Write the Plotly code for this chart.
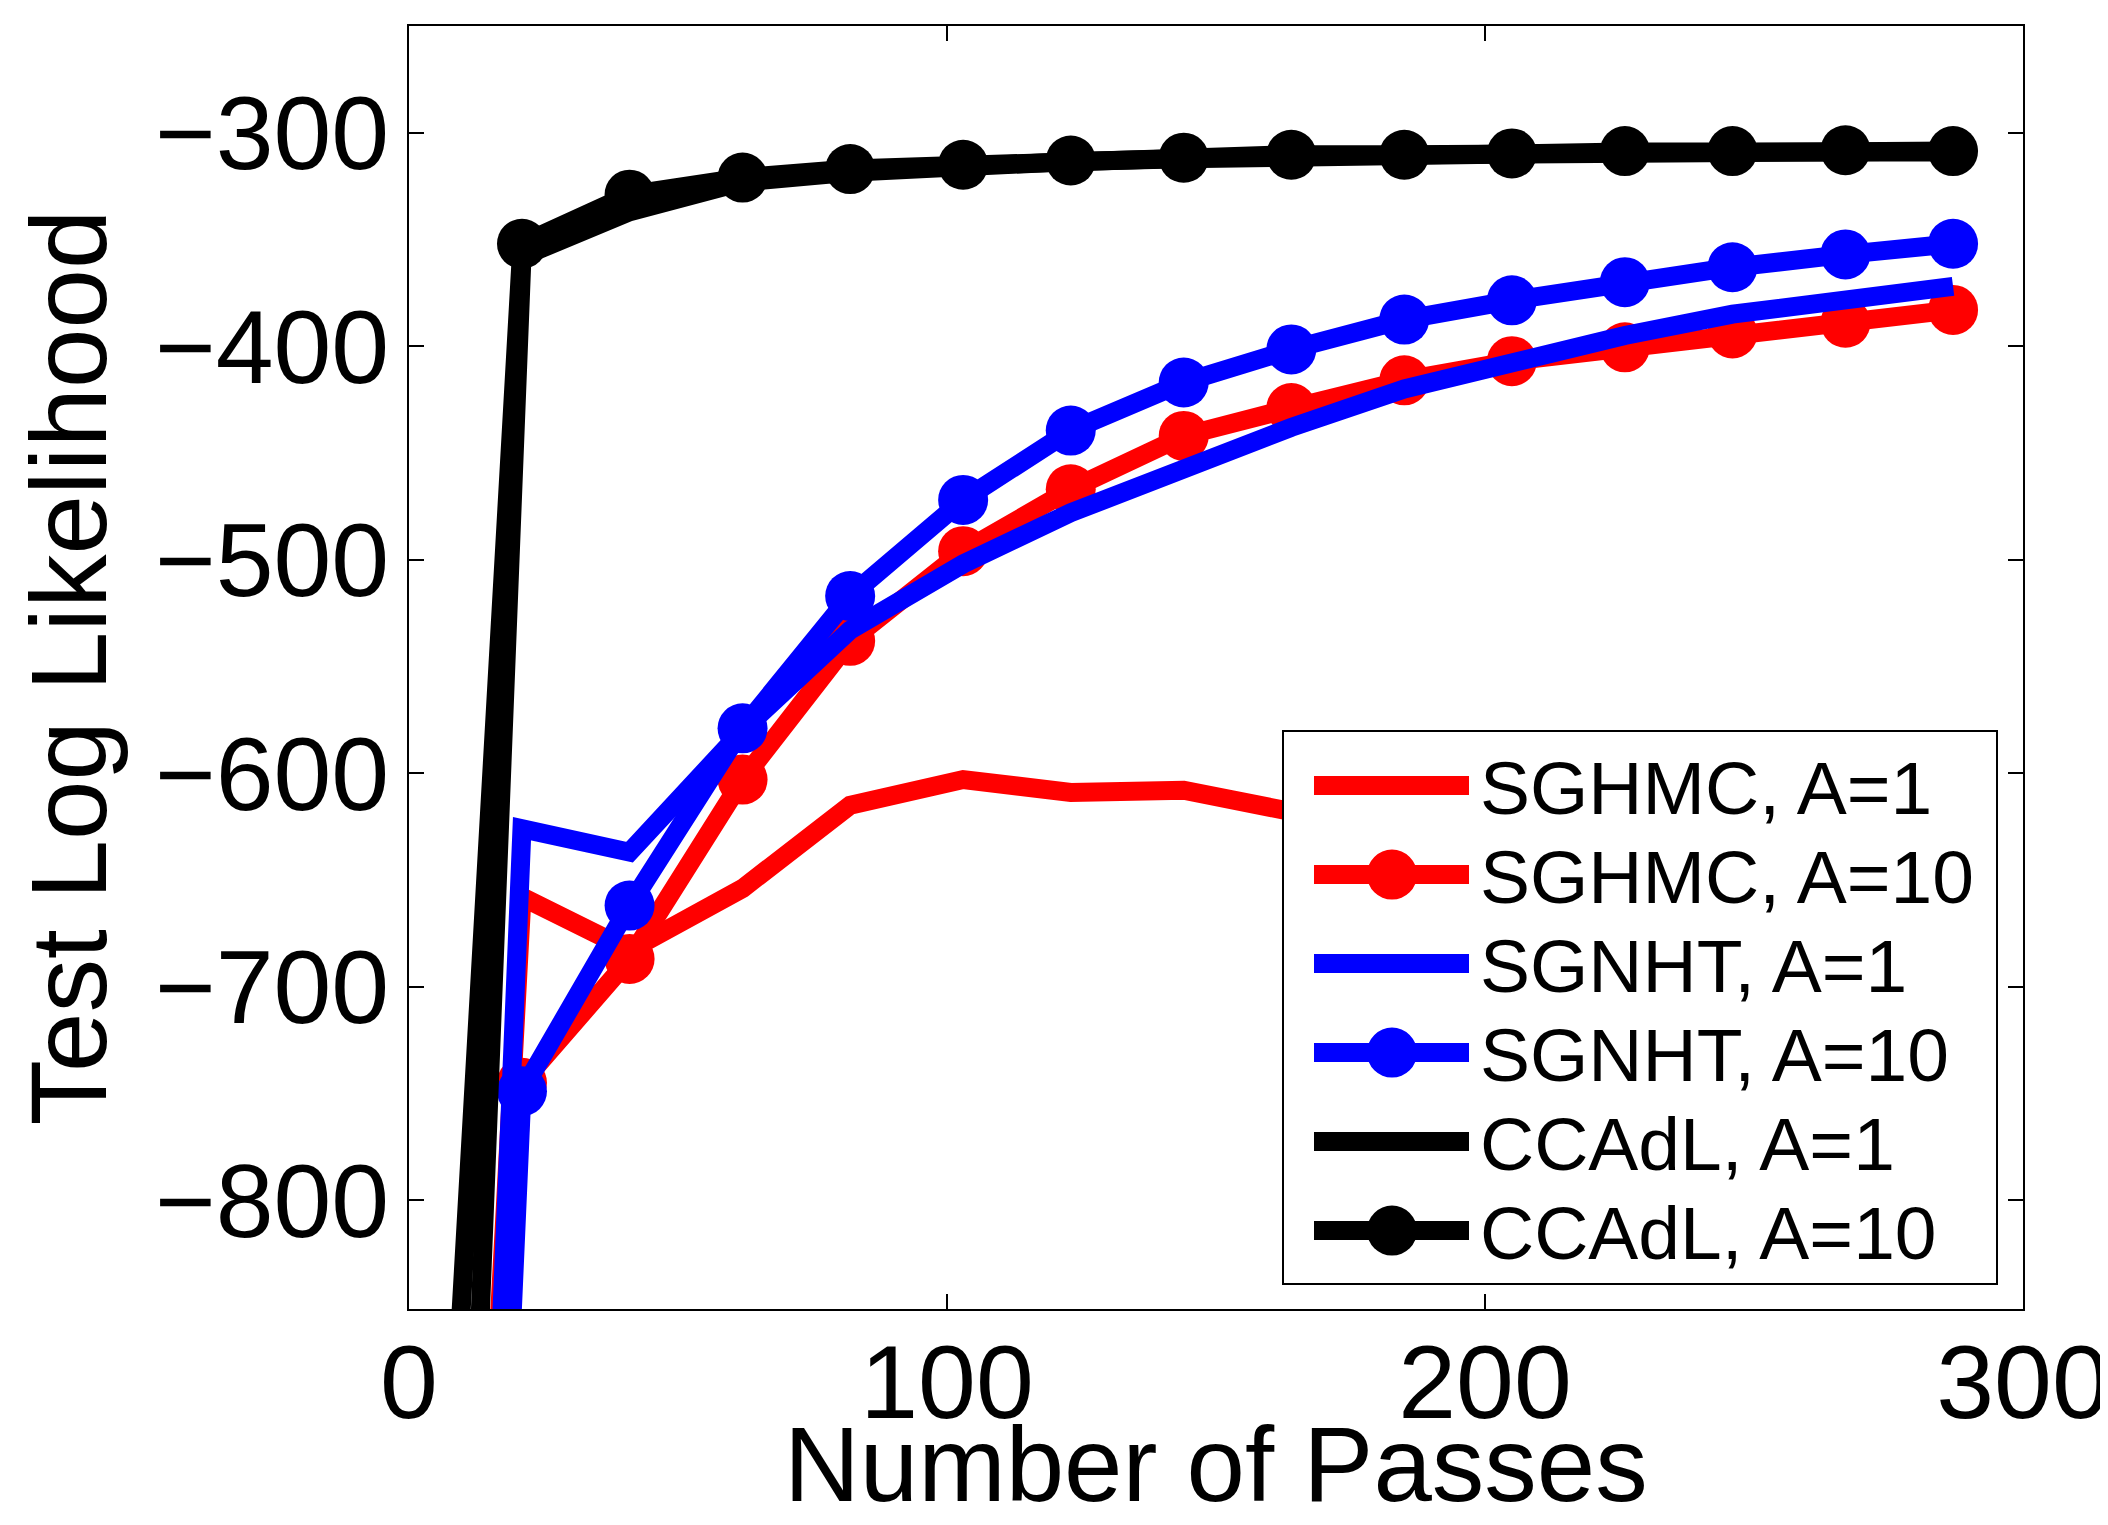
import plotly.graph_objects as go

# ---------------- data ----------------
passes = [0, 21, 41, 62, 82, 103, 123, 144, 164, 185, 205, 226, 246, 267, 287]

sghmc_a1 = [-1645, -658, -683, -654, -615, -603, -609, -608, -618, -622, -625, -628, -630, -632, -634]
sghmc_a10 = [-1800, -745, -687, -603, -538, -496, -467, -442, -429, -416, -407, -400.5, -394, -389, -383]
sgnht_a1 = [-1900, -626, -637, -580, -533, -502, -478, -457, -438, -420, -407, -395, -385, -378, -372]
sgnht_a10 = [-1950, -749, -662, -579, -517, -472, -439.5, -417, -401.5, -387.5, -378.5, -370, -363, -357, -352]
ccadl_a1 = [-1700, -358, -337, -323, -318.5, -315.5, -313.5, -312.2, -310.8, -310.5, -310, -309, -309, -308.5, -309]
ccadl_a10 = [-1280, -352, -329, -321, -317, -315, -313, -311.7, -310.3, -310.3, -309.7, -308.6, -308.6, -308.2, -308.6]

series_names = ["SGHMC, A=1", "SGHMC, A=10", "SGNHT, A=1", "SGNHT, A=10", "CCAdL, A=1", "CCAdL, A=10"]
series_values = [sghmc_a1, sghmc_a10, sgnht_a1, sgnht_a10, ccadl_a1, ccadl_a10]
series_colors = ["#ff0000", "#ff0000", "#0000ff", "#0000ff", "#000000", "#000000"]
series_markers = [False, True, False, True, False, True]

x_ticks = [0, 100, 200, 300]
y_ticks = [-800, -700, -600, -500, -400, -300]

x_title = "Number of Passes"
y_title = "Test Log Likelihood"

# ---------------- layout constants ----------------
W, H = 2108, 1525
L, R, T, B = 401, 93, 18, 224
PW, PH = W - L - R, H - T - B
FONT = "Liberation Sans, Arial, Helvetica, sans-serif"
LW = 19
MS = 50

fig = go.Figure()
for name, vals, col, mk in zip(series_names, series_values, series_colors, series_markers):
    fig.add_trace(go.Scatter(
        x=passes, y=vals, name=name,
        mode="lines+markers" if mk else "lines",
        line=dict(color=col, width=LW),
        marker=dict(color=col, size=MS, symbol="circle", line=dict(width=0)),
        showlegend=False, cliponaxis=True,
    ))

axis_common = dict(
    showline=True, linecolor="black", linewidth=2, mirror="ticks",
    ticks="inside", ticklen=15, tickwidth=2, tickcolor="black",
    showgrid=False, zeroline=False,
    tickfont=dict(family=FONT, size=104, color="black"),
)

fig.update_layout(
    width=W, height=H,
    margin=dict(l=L, r=R, t=T, b=B, autoexpand=False),
    paper_bgcolor="white", plot_bgcolor="white",
    xaxis=dict(range=[0, 300], tickvals=x_ticks, ticklabelstandoff=-18, **axis_common),
    yaxis=dict(range=[-851, -250], tickvals=y_ticks, ticklabelstandoff=-3, **axis_common),
    showlegend=False,
)

# axis titles as annotations (pixel-tuned)
fig.add_annotation(text=x_title, xref="paper", yref="paper", x=0.5, y=(1301 - 1516) / PH,
                   xanchor="center", yanchor="bottom", showarrow=False, borderpad=0,
                   font=dict(family=FONT, size=105, color="black"))
fig.add_annotation(text=y_title, xref="paper", yref="paper", x=(-1 - L) / PW, y=0.5,
                   xanchor="left", yanchor="middle", textangle=-90, showarrow=False, borderpad=0,
                   font=dict(family=FONT, size=107, color="black"))

# ---------------- custom legend ----------------
def px_x(px):
    return (px - L) / PW

def px_y(py):
    return (T + PH - py) / PH

shapes = [dict(type="rect", xref="paper", yref="paper",
               x0=px_x(1275), x1=px_x(1989), y0=px_y(1276), y1=px_y(723),
               line=dict(color="black", width=2), fillcolor="white", layer="above")]
row0, dy = 777.6, 89.0
for i, (name, col, mk) in enumerate(zip(series_names, series_colors, series_markers)):
    cy = row0 + i * dy
    shapes.append(dict(type="line", xref="paper", yref="paper",
                       x0=px_x(1306), x1=px_x(1461), y0=px_y(cy), y1=px_y(cy),
                       line=dict(color=col, width=LW), layer="above"))
    if mk:
        shapes.append(dict(type="circle", xref="paper", yref="paper",
                           x0=px_x(1384 - MS / 2), x1=px_x(1384 + MS / 2),
                           y0=px_y(cy + MS / 2), y1=px_y(cy - MS / 2),
                           line=dict(width=0), fillcolor=col, layer="above"))
    fig.add_annotation(text=name, xref="paper", yref="paper", x=px_x(1470), y=px_y(cy + 2),
                       xanchor="left", yanchor="middle", showarrow=False,
                       font=dict(family=FONT, size=75, color="black"))
fig.update_layout(shapes=shapes)

fig.write_html("out.html")
